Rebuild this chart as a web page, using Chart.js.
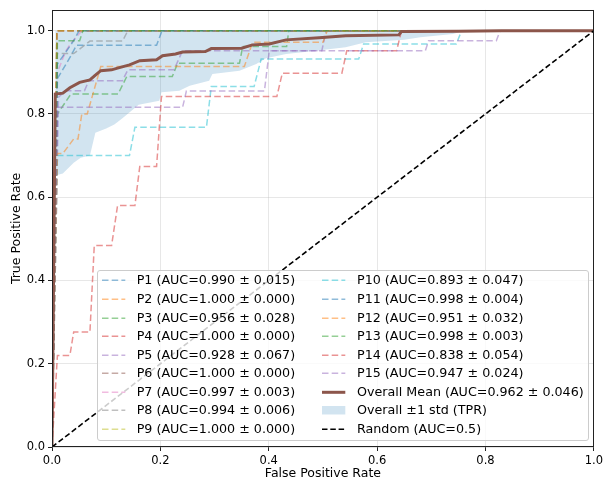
<!DOCTYPE html>
<html>
<head>
<meta charset="utf-8">
<script src="https://cdn.jsdelivr.net/npm/chart.js@4.4.1/dist/chart.umd.min.js"></script>
<style>
  html, body { margin: 0; padding: 0; background: #fff; }
  #wrap { position: relative; width: 606px; height: 478px; font-family: 'DejaVu Sans', sans-serif; }
  #roc { position: absolute; left: 0; top: 0; }
  #legend {
    position: absolute; left: 97px; top: 270px; width: 492px; height: 171px;
    box-sizing: border-box; background: rgba(255, 255, 255, 0.8);
    border: 1px solid #cccccc; border-radius: 3px;
  }
  .item { position: absolute; height: 18.6px; line-height: 18.6px; font-size: 12.7px; color: #000; white-space: nowrap; }
  .item svg { position: absolute; left: 0; top: 0; }
</style>
</head>
<body>
<div id="wrap">
  <canvas id="roc" width="606" height="478"></canvas>
  <div id="legend"></div>
</div>
<script>
/* ROC curves per participant, mean curve and ±1 std band */

// axis ticks
var xTicks = [0, 0.2, 0.4, 0.6, 0.8, 1.0];
var yTicks = [0, 0.2, 0.4, 0.6, 0.8, 1.0];

// legend values
var participants = ['P1', 'P2', 'P3', 'P4', 'P5', 'P6', 'P7', 'P8', 'P9', 'P10', 'P11', 'P12', 'P13', 'P14', 'P15'];
var aucMean = [0.990, 1.000, 0.956, 1.000, 0.928, 1.000, 0.997, 0.994, 1.000, 0.893, 0.998, 0.951, 0.998, 0.838, 0.947];
var aucStd  = [0.015, 0.000, 0.028, 0.000, 0.067, 0.000, 0.003, 0.006, 0.000, 0.047, 0.004, 0.032, 0.003, 0.054, 0.024];
var overallAuc = 0.962;
var overallStd = 0.046;

// per-participant mean ROC, [fpr, tpr]
var rocP1  = [[0, 0], [0.01, 0.885], [0.035, 0.94], [0.045, 0.965], [0.193, 0.965], [0.203, 1.0], [1, 1]];
var rocP2  = [[0, 0], [0.009, 1.0], [1, 1]];
var rocP3  = [[0, 0], [0.01, 0.80], [0.035, 0.848], [0.122, 0.848], [0.138, 0.89], [0.222, 0.89], [0.232, 0.922],
              [0.346, 0.922], [0.352, 0.962], [0.433, 0.962], [0.437, 1.0], [1, 1]];
var rocP4  = [[0, 0], [0.009, 1.0], [1, 1]];
var rocP5  = [[0, 0], [0.012, 0.84], [0.025, 0.856], [0.06, 0.856], [0.068, 0.88], [0.13, 0.88], [0.14, 0.906],
              [0.225, 0.906], [0.241, 0.952], [0.498, 0.952], [0.506, 1.0], [1, 1]];
var rocP6  = [[0, 0], [0.009, 1.0], [1, 1]];
var rocP7  = [[0, 0], [0.01, 0.90], [0.025, 0.95], [0.035, 0.97], [0.055, 1.0], [1, 1]];
var rocP8  = [[0, 0], [0.01, 0.945], [0.04, 0.945], [0.07, 0.975], [0.13, 0.975], [0.14, 1.0], [1, 1]];
var rocP9  = [[0, 0], [0.009, 1.0], [1, 1]];
var rocP10 = [[0, 0], [0.01, 0.70], [0.143, 0.70], [0.153, 0.768], [0.285, 0.768], [0.294, 0.866], [0.373, 0.866],
              [0.386, 0.932], [0.566, 0.932], [0.575, 0.968], [0.746, 0.968], [0.756, 1.0], [1, 1]];
var rocP11 = [[0, 0], [0.01, 0.92], [0.04, 0.976], [0.05, 1.0], [1, 1]];
var rocP12 = [[0, 0], [0.01, 0.705], [0.02, 0.705], [0.04, 0.74], [0.048, 0.74], [0.055, 0.80], [0.065, 0.80],
              [0.09, 0.914], [0.355, 0.914], [0.37, 0.972], [0.5, 0.972], [0.508, 1.0], [1, 1]];
var rocP13 = [[0, 0], [0.01, 0.976], [0.051, 0.976], [0.057, 1.0], [1, 1]];
var rocP14 = [[0, 0], [0.01, 0.22], [0.033, 0.22], [0.04, 0.276], [0.07, 0.276], [0.078, 0.484], [0.11, 0.484],
              [0.121, 0.58], [0.153, 0.58], [0.162, 0.674], [0.193, 0.674], [0.202, 0.842], [0.415, 0.842],
              [0.425, 0.898], [0.535, 0.898], [0.544, 0.952], [0.636, 0.952], [0.645, 1.0], [1, 1]];
var rocP15 = [[0, 0], [0.01, 0.816], [0.241, 0.816], [0.248, 0.855], [0.392, 0.855], [0.401, 0.952], [0.689, 0.952],
              [0.695, 0.976], [0.82, 0.976], [0.827, 1.0], [1, 1]];

// overall mean curve
var meanFpr = [0, 0.006, 0.02, 0.033, 0.051, 0.07, 0.079, 0.09, 0.11, 0.121, 0.143, 0.162, 0.193, 0.204, 0.228,
               0.241, 0.283, 0.294, 0.35, 0.37, 0.401, 0.432, 0.493, 0.542, 0.64, 0.645, 0.75, 0.83, 1.0];
var meanTpr = [0, 0.848, 0.85, 0.863, 0.876, 0.882, 0.892, 0.904, 0.906, 0.91, 0.918, 0.928, 0.93, 0.94, 0.944,
               0.949, 0.95, 0.957, 0.958, 0.966, 0.968, 0.978, 0.983, 0.988, 0.99, 0.998, 0.999, 1.0, 1.0];

// ±1 std band (upper clipped at 1)
var bandFpr   = [0.006, 0.02, 0.04, 0.053, 0.07, 0.08, 0.10, 0.115, 0.13, 0.16, 0.198, 0.202, 0.235, 0.254,
                 0.29, 0.296, 0.346, 0.377, 0.395, 0.432, 0.487, 0.542, 0.579, 0.65, 0.68, 0.74, 0.76, 1.0];
var bandLower = [0.652, 0.657, 0.683, 0.695, 0.70, 0.755, 0.765, 0.775, 0.79, 0.822, 0.832, 0.852, 0.856, 0.868,
                 0.88, 0.896, 0.904, 0.92, 0.934, 0.944, 0.952, 0.96, 0.972, 0.978, 0.984, 0.992, 1.0, 1.0];
var bandUpper = [1, 1, 1, 1, 1, 1, 1, 1, 1, 1, 1, 1, 1, 1,
                 1, 1, 1, 1, 1, 1, 1, 1, 1, 1, 1, 1, 1, 1];

var randomFpr = [0, 1];
var randomTpr = [0, 1];

var rocCurves = [rocP1, rocP2, rocP3, rocP4, rocP5, rocP6, rocP7, rocP8, rocP9, rocP10, rocP11, rocP12, rocP13, rocP14, rocP15];

(function () {
    'use strict';

    // matplotlib tab10, cycled
    var tab10 = ['31,119,180', '255,127,14', '44,160,44', '214,39,40', '148,103,189',
                 '140,86,75', '227,119,194', '127,127,127', '188,189,34', '23,190,207'];
    var DASH = [6.5, 3.2];

    function pairsToPoints(pairs) {
        return pairs.map(function (p) { return { x: p[0], y: p[1] }; });
    }
    function zipPoints(xs, ys) {
        return xs.map(function (x, i) { return { x: x, y: ys[i] }; });
    }
    function curveColor(i) {
        return 'rgba(' + tab10[i % 10] + ',0.5)';
    }

    var datasets = [];

    datasets.push({
        label: 'band-upper', data: zipPoints(bandFpr, bandUpper), showLine: true,
        borderColor: 'transparent', borderWidth: 0, pointRadius: 0,
        backgroundColor: 'rgba(31,119,180,0.2)', fill: '+1', order: 100
    });
    datasets.push({
        label: 'band-lower', data: zipPoints(bandFpr, bandLower), showLine: true,
        borderColor: 'transparent', borderWidth: 0, pointRadius: 0, fill: false, order: 99
    });

    for (var i = 0; i < rocCurves.length; i++) {
        datasets.push({
            label: participants[i], data: pairsToPoints(rocCurves[i]), showLine: true,
            borderColor: curveColor(i), borderWidth: 1.5, borderDash: DASH,
            pointRadius: 0, fill: false, order: 60 - i
        });
    }

    datasets.push({
        label: 'Overall Mean', data: zipPoints(meanFpr, meanTpr), showLine: true,
        borderColor: 'rgb(140,86,75)', borderWidth: 3, pointRadius: 0, fill: false, order: 2
    });
    datasets.push({
        label: 'Random', data: zipPoints(randomFpr, randomTpr), showLine: true,
        borderColor: '#000', borderWidth: 1.6, borderDash: [5.5, 2.8], pointRadius: 0, fill: false, order: 1
    });

    // plot frame (all four spines)
    var framePlugin = {
        id: 'frame',
        afterDatasetsDraw: function (chart) {
            var ctx = chart.ctx, a = chart.chartArea;
            ctx.save();
            ctx.strokeStyle = '#222';
            ctx.lineWidth = 1;
            ctx.strokeRect(Math.round(a.left) + 0.5, Math.round(a.top) + 0.5,
                           Math.round(a.right - a.left) - 1, Math.round(a.bottom - a.top) - 1);
            ctx.restore();
        }
    };

    Chart.defaults.font.family = "'DejaVu Sans', sans-serif";
    Chart.defaults.color = '#000';

    new Chart(document.getElementById('roc').getContext('2d'), {
        type: 'scatter',
        data: { datasets: datasets },
        options: {
            responsive: false,
            animation: false,
            events: [],
            layout: { padding: { top: 9, right: 10, left: 0, bottom: 0 } },
            plugins: { legend: { display: false }, tooltip: { enabled: false } },
            elements: { line: { tension: 0 } },
            scales: {
                x: {
                    type: 'linear', min: 0, max: 1,
                    afterBuildTicks: function (s) { s.ticks = xTicks.map(function (v) { return { value: v }; }); },
                    afterFit: function (s) { s.height = 31; },
                    ticks: { font: { size: 11.5 }, padding: 3, maxRotation: 0, autoSkip: false,
                             callback: function (v) { return Number(v).toFixed(1); } },
                    grid: { color: 'rgba(176,176,176,0.3)', tickColor: '#222', tickLength: 4 },
                    border: { display: false },
                    title: { display: true, text: 'False Positive Rate', font: { size: 12.5 }, padding: { top: 0, bottom: -3 } }
                },
                y: {
                    type: 'linear', min: 0, max: 1.05,
                    afterBuildTicks: function (s) { s.ticks = yTicks.map(function (v) { return { value: v }; }); },
                    afterFit: function (s) { s.width = 52; },
                    ticks: { font: { size: 11.5 }, padding: 3, autoSkip: false,
                             callback: function (v) { return Number(v).toFixed(1); } },
                    grid: { color: 'rgba(176,176,176,0.3)', tickColor: '#222', tickLength: 4 },
                    border: { display: false },
                    title: { display: true, text: 'True Positive Rate', font: { size: 12.5 }, padding: { top: 9, bottom: 0 } }
                }
            }
        },
        plugins: [framePlugin]
    });

    // legend (two columns inside the plot)
    function handleSvg(kind, color) {
        var s = '<svg width="24" height="18.6" xmlns="http://www.w3.org/2000/svg">';
        if (kind === 'dash') {
            s += '<line x1="0" y1="9.3" x2="23.3" y2="9.3" stroke="' + color + '" stroke-width="1.5" stroke-dasharray="' + DASH.join(' ') + '"/>';
        } else if (kind === 'solid') {
            s += '<line x1="0" y1="9.3" x2="23.3" y2="9.3" stroke="' + color + '" stroke-width="3"/>';
        } else if (kind === 'patch') {
            s += '<rect x="0" y="5" width="23.3" height="8.5" fill="' + color + '"/>';
        } else {
            s += '<line x1="0" y1="9.3" x2="23.3" y2="9.3" stroke="' + color + '" stroke-width="1.6" stroke-dasharray="5.5 2.8"/>';
        }
        return s + '</svg>';
    }

    var entries = [];
    for (var k = 0; k < participants.length; k++) {
        entries.push({ kind: 'dash', color: curveColor(k),
                       text: participants[k] + ' (AUC=' + aucMean[k].toFixed(3) + ' \u00b1 ' + aucStd[k].toFixed(3) + ')' });
    }
    entries.push({ kind: 'solid', color: 'rgb(140,86,75)',
                   text: 'Overall Mean (AUC=' + overallAuc.toFixed(3) + ' \u00b1 ' + overallStd.toFixed(3) + ')' });
    entries.push({ kind: 'patch', color: 'rgba(31,119,180,0.2)', text: 'Overall \u00b11 std (TPR)' });
    entries.push({ kind: 'black', color: '#000', text: 'Random (AUC=0.5)' });

    var legendEl = document.getElementById('legend');
    var html = '';
    for (var e = 0; e < entries.length; e++) {
        var col = e < 9 ? 0 : 1;
        var row = e % 9;
        var itemLeft = col === 0 ? 3.7 : 224;
        var itemTop = 0.4 + row * 18.57;
        html += '<div class="item" style="left:' + itemLeft + 'px; top:' + itemTop + 'px;">' +
            handleSvg(entries[e].kind, entries[e].color) +
            '<span style="position:absolute; left:35px;">' + entries[e].text + '</span></div>';
    }
    legendEl.innerHTML = html;
})();
</script>
</body>
</html>
